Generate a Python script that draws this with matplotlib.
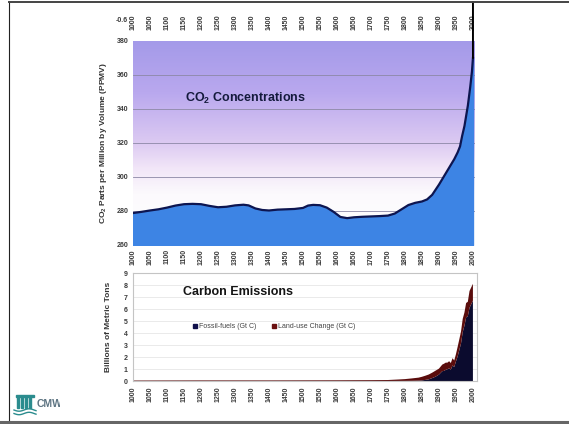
import numpy as np
import matplotlib
matplotlib.use('Agg')
import matplotlib.pyplot as plt
from matplotlib.colors import LinearSegmentedColormap
from matplotlib.lines import Line2D
from matplotlib.patches import Rectangle

plt.rcParams['font.family'] = ['Liberation Sans', 'DejaVu Sans']
plt.rcParams['mathtext.fontset'] = 'custom'
plt.rcParams['mathtext.rm'] = 'Liberation Sans'
plt.rcParams['mathtext.bf'] = 'Liberation Sans:bold'

# CO2 concentration (ppmv)
co2_years = [1000, 1025, 1050, 1075, 1100, 1125, 1150, 1175, 1200, 1225, 1250, 1275,
             1300, 1325, 1340, 1360, 1380, 1400, 1425, 1450, 1475, 1500, 1515, 1530,
             1550, 1570, 1590, 1610, 1630, 1650, 1675, 1700, 1725, 1750, 1770, 1790,
             1810, 1830, 1850, 1865, 1880, 1900, 1915, 1930, 1945, 1955, 1962, 1968,
             1975, 1985, 1992, 1997, 2000]
co2_ppm = [278.8, 279.5, 280.3, 281, 282, 283.2, 284, 284.2, 284, 283, 282.2, 282.5,
           283.3, 283.7, 283.3, 281.5, 280.6, 280.3, 280.8, 281, 281.2, 281.8, 283.2, 283.6,
           283.4, 282, 279.5, 276.5, 275.8, 276.3, 276.6, 276.8, 277, 277.3, 278.5, 281,
           283.5, 284.8, 285.6, 286.8, 289.5, 295.5, 300.5, 305.5, 310.5, 314.5, 318, 324,
           330, 342, 353, 362, 370]

# carbon emissions (Gt C)
em_years = [1000, 1200, 1400, 1600, 1700, 1750, 1780, 1800, 1820, 1840, 1850, 1860,
            1870, 1880, 1890, 1900, 1910, 1915, 1920, 1925, 1930, 1935, 1940, 1945,
            1950, 1955, 1960, 1965, 1970, 1975, 1980, 1985, 1990, 1995, 2000]
fossil = [0, 0, 0, 0, 0, 0.003, 0.005, 0.008, 0.015, 0.03, 0.05, 0.09,
          0.14, 0.24, 0.36, 0.53, 0.82, 0.84, 0.93, 0.98, 1.05, 0.95, 1.3, 1.16,
          1.63, 2.04, 2.58, 3.13, 4.08, 4.6, 5.3, 5.4, 6.1, 6.4, 6.7]
landuse = [0.04, 0.05, 0.05, 0.06, 0.07, 0.08, 0.12, 0.15, 0.2, 0.25, 0.3, 0.35,
           0.4, 0.45, 0.5, 0.5, 0.55, 0.6, 0.6, 0.55, 0.6, 0.55, 0.6, 0.55,
           0.6, 0.8, 0.9, 1.0, 1.1, 1.1, 1.2, 1.2, 1.4, 1.4, 1.4]

year_ticks = list(range(1000, 2001, 50))
ppm_ticks = list(range(260, 381, 20))
em_ticks = list(range(0, 10))

tick_color = '#3a3a3a'

fig = plt.figure(figsize=(5.69, 4.24), dpi=100)
W, H = 569, 424

# ---- CO2 panel ----
ax1 = fig.add_axes([133 / W, 1 - 245 / H, 342 / W, 204 / H])
ax1.set_xlim(1000, 2006)
ax1.set_ylim(260, 380)

sky = LinearSegmentedColormap.from_list('sky', [
    (0.0, '#ffffff'), (0.25, '#fcfafd'), (0.375, '#f2e6f8'),
    (0.5, '#dccaf2'), (0.75, '#b9a8ee'), (1.0, '#a49ae9')])
grad = np.linspace(0, 1, 256)[:, None]
ax1.imshow(grad, extent=[1000, 2006, 260, 380], origin='lower', aspect='auto',
           cmap=sky, zorder=0)
for v in ppm_ticks[1:-1]:
    ax1.axhline(v, color='#8c88a6', lw=0.6, zorder=1)

ax1.fill_between(co2_years, co2_ppm, 260, color='#3d84e4', zorder=2)
ax1.plot(co2_years, co2_ppm, color='#0d1550', lw=1.6, zorder=3)

ax1.text(1330, 346, r'CO$_\mathbf{2}$ Concentrations', fontsize=9, fontweight='bold',
         color='#141a3c', ha='center', va='center', zorder=4)

ax1.set_xticks(year_ticks)
ax1.set_xticklabels([str(y) for y in year_ticks], rotation=90)
ax1.set_yticks(ppm_ticks)
ax1.tick_params(axis='x', length=0, labelsize=5, pad=3, colors=tick_color)
ax1.tick_params(axis='y', length=0, labelsize=5, pad=3, colors=tick_color)

top = ax1.secondary_xaxis('top')
top.set_xticks(year_ticks)
top.set_xticklabels([str(y) for y in year_ticks], rotation=90)
top.tick_params(length=0, labelsize=5, pad=8, colors=tick_color)
top.spines['top'].set_visible(False)

for lab in ax1.get_xticklabels() + ax1.get_yticklabels() + top.get_xticklabels():
    lab.set_fontweight('bold')
for s in ax1.spines.values():
    s.set_visible(False)
ax1.set_ylabel(r'CO$_\mathbf{2}$ Parts per Million by Volume (PPMV)', fontsize=6,
               fontweight='bold', color='#333333', labelpad=6)

fig.text(128 / W, 1 - 20 / H, '-0.6', fontsize=5, fontweight='bold',
         color=tick_color, ha='right', va='center')

# vertical marker rising from the latest reading
ax1.annotate('', xy=(co2_years[-1], co2_ppm[-1]), xycoords='data',
             xytext=(co2_years[-1], 1 - 2 / H), textcoords=('data', 'figure fraction'),
             arrowprops=dict(arrowstyle='-', color='black', lw=1.4,
                             shrinkA=0, shrinkB=0), zorder=5)

# ---- emissions panel ----
ax2 = fig.add_axes([133 / W, 1 - 381 / H, 344 / W, 108 / H])
ax2.set_xlim(1000, 2012)
ax2.set_ylim(0, 9)
for v in em_ticks[1:]:
    ax2.axhline(v, color='#e2e2e2', lw=0.5, zorder=0)
ax2.stackplot(em_years, fossil, landuse, colors=['#0b0b2e', '#5a0c0c'], zorder=2)

ax2.text(1309, 7.4, 'Carbon Emissions', fontsize=9, fontweight='bold',
         color='#141414', ha='center', va='center')

handles = [Line2D([], [], ls='', marker='s', ms=2.5, color='#10104a'),
           Line2D([], [], ls='', marker='s', ms=2.5, color='#6a1010')]
leg = ax2.legend(handles, ['Fossil-fuels (Gt C)', 'Land-use Change (Gt C)'],
                 loc='center left', bbox_to_anchor=(0.155, 0.5), ncol=2,
                 frameon=False, fontsize=5, handlelength=0.6, handletextpad=0.3,
                 columnspacing=2.2)
for t in leg.get_texts():
    t.set_color('#444444')

ax2.set_xticks(year_ticks)
ax2.set_xticklabels([str(y) for y in year_ticks], rotation=90)
ax2.set_yticks(em_ticks)
ax2.tick_params(axis='x', length=0, labelsize=5, pad=4, colors=tick_color)
ax2.tick_params(axis='y', length=0, labelsize=5, pad=4, colors=tick_color)
for lab in ax2.get_xticklabels() + ax2.get_yticklabels():
    lab.set_fontweight('bold')
for s in ax2.spines.values():
    s.set_color('#c4c4c4')
    s.set_linewidth(0.8)
ax2.set_ylabel('Billions of Metric Tons', fontsize=6, fontweight='bold',
               color='#333333', labelpad=8)

# ---- slide frame ----
fig.add_artist(Line2D([9 / W, 9 / W], [1 - 2 / H, 1 - 422 / H], color='#222222', lw=0.8))
fig.add_artist(Line2D([9 / W, 1], [1 - 2 / H, 1 - 2 / H], color='#444444', lw=1.4))
fig.add_artist(Line2D([0, 1], [1 - 422 / H, 1 - 422 / H], color='#666666', lw=2.2))

# ---- logo ----
teal = '#2b8c8e'
fig.add_artist(Rectangle((16 / W, 1 - 397 / H), 18 / W, 2 / H, color=teal))
for px in (17, 21, 25, 29):
    fig.add_artist(Rectangle((px / W, 1 - 408 / H), 2.2 / W, 11 / H, color=teal))
wx = np.linspace(14, 36, 40)
for off in (410, 413.5):
    wy = off + 1.2 * np.sin((wx - 14) / 3.2)
    fig.add_artist(Line2D(wx / W, 1 - wy / H, color=teal, lw=1.0))
logo_txt = fig.text(37 / W, 1 - 404 / H, 'CMWS', fontsize=7.5, fontweight='bold',
                    color='#5d7482', ha='left', va='center')
clip = Rectangle((0, 0), 60 / W, 1, transform=fig.transFigure)
logo_txt.set_clip_path(clip)

fig.savefig('out.png', dpi=100)
